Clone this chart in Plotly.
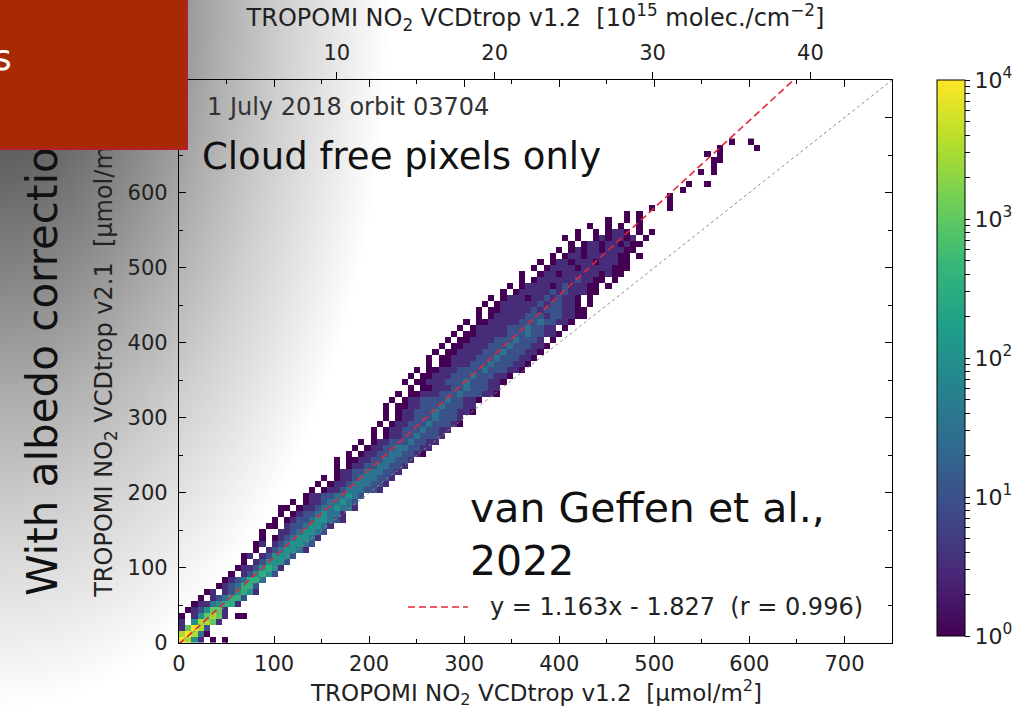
import base64
import numpy as np
import plotly.graph_objects as go

# ---------------- data ----------------
# 2-D histogram, bin width in each axis (µmol/m²)
X_BIN = 6.5
Y_BIN = 8.0
# each row r covers y in [r*Y_BIN, (r+1)*Y_BIN]; cells start at column ROW_START[r]
# characters: '.' empty, digit d -> count = 10**(d/2)
ROW_START = [0, 0, 0, 0, 0, 1, 2, 3, 4, 6,
             7, 8, 9, 10, 10, 12, 12, 13, 13, 14,
             15, 16, 16, 18, 20, 21, 22, 23, 25, 25,
             25, 27, 28, 29, 31, 31, 32, 33, 33, 33,
             34, 35, 37, 36, 37, 38, 40, 40, 41, 42,
             43, 44, 45, 46, 48, 48, 49, 50, 52, 53,
             55, 55, 57, 58, 60, 61, 63, 62, 64, 66,
             69, 72, 76, 79, 79, 81, 82, 0, 84, 86,
             86, 85, 87, 89]
ROW_CELLS = ["8741.0.0", "78730", "16872", "1.47761", "0.146761.00",
             "0124661", "01134551", "0.123552", "01.124541", "0123552",
             "0123553", "0.124542", "01124541", "0.124442", "01.124442",
             "0.1234431", "01.1234432", "0.01234431", "0..11234432", "00.12234431",
             "0.0122344321", "0.012234331", "00.0112334331", "0.011233432", "0112233432",
             "0.0112333221", "0.0112333221", "0.0112333221", "01122333221", "0.0112233221",
             "0.00112233221", "0.01122332210", "0.01122332211", "0.01122232211", "0.0112232221",
             "0.01122232211", "0.011222322210", "0.01122232221", "0.0112223222110", "0.0011222322211",
             "0.0112222322110", "0.001112223222110", "0.0011122322211", "0.001112223222110", "0.001112223222110",
             "0.0011122223222110", "0.001112223222110", "0.0011112223222110", "0.0011112223222110", "0.0011112223222110",
             "0.00111122232221.0", "0.0011111222322110", "0.01111122232211.0", "0.0011111222322110", "0.0111112221221100",
             "0.0011111212221100", "0.01111112122110.0", "0.0111011212110.0", "0.01111121211100", "0.0111101211100.0",
             "0.011111121100.0", "0..01101111110100", "0.01111011111000", "0.0110111011100", "0.01101111100.0",
             "0.01011011100", "0.0110110100", "0.0..0101101.0", "0..0.0110.0.0", "0..0.0..0",
             "0..0.0", "0.0", "0..0", "0", "0",
             "0", "0..0", "", "0.0", "0",
             "00", "0.0", "0.....0", "0..0"]

# colour bar (log10 of counts)
CB_MAJOR = [0, 1, 2, 3, 4]
CB_LABELS = ["10<sup>0</sup>", "10<sup>1</sup>", "10<sup>2</sup>", "10<sup>3</sup>", "10<sup>4</sup>"]

# axes
X_RANGE = [0, 750]
Y_RANGE = [0, 750]
UMOL_TO_E15 = 0.06022          # 1 µmol/m² = 0.06022 ×10^15 molec/cm²
TOP_TICKS = [10, 20, 30, 40]

# linear fit
FIT_SLOPE = 1.163
FIT_INTERCEPT = -1.827
FIT_R = 0.996

FONT = "DejaVu Sans"
NB = "\u00a0"
FIT_COLOR = "#e3263a"

# ---------------- build histogram grid ----------------
n_rows = len(ROW_CELLS)
n_cols = max(s + len(c) for s, c in zip(ROW_START, ROW_CELLS))
Z = np.full((n_rows, n_cols), np.nan)
for r, (s, cells) in enumerate(zip(ROW_START, ROW_CELLS)):
    for k, ch in enumerate(cells):
        if ch != ".":
            Z[r, s + k] = int(ch) / 2.0

minor_vals = []
minor_text = []
for dec in range(4):
    for m in range(2, 10):
        minor_vals.append(dec + np.log10(m))
        minor_text.append("")

fig = go.Figure()

fig.add_trace(go.Heatmap(
    z=Z, x0=X_BIN / 2, dx=X_BIN, y0=Y_BIN / 2, dy=Y_BIN,
    colorscale="Viridis", zmin=0, zmax=4, hoverinfo="skip", showscale=True,
    colorbar=dict(
        x=(937 - 179) / 713, xanchor="left", xpad=0,
        y=1.0, yanchor="top", ypad=0,
        len=(636 - 80) / 563, lenmode="fraction", thickness=28,
        outlinecolor="black", outlinewidth=1,
        tickvals=CB_MAJOR + minor_vals, ticktext=CB_LABELS + minor_text,
        ticks="outside", ticklen=5, tickcolor="black",
        tickfont=dict(family=FONT, size=22, color="#222"),
    ),
))

# 1:1 line
fig.add_trace(go.Scatter(
    x=X_RANGE, y=Y_RANGE, mode="lines",
    line=dict(color="#8a8a8a", width=1, dash="dot"),
    showlegend=False, hoverinfo="skip",
))

# fit line
x_end = (Y_RANGE[1] - FIT_INTERCEPT) / FIT_SLOPE
fit_x = [0, x_end]
fit_y = [FIT_SLOPE * v + FIT_INTERCEPT for v in fit_x]
fit_label = f"y = {FIT_SLOPE:.3f}x - {abs(FIT_INTERCEPT):.3f}{NB}{NB}(r = {FIT_R:.3f})"
fig.add_trace(go.Scatter(
    x=fit_x, y=fit_y, mode="lines",
    line=dict(color=FIT_COLOR, width=1.6, dash="7px,4px"),
    name=fit_label, showlegend=False, hoverinfo="skip",
))

# invisible trace on top axis so it is drawn
fig.add_trace(go.Scatter(
    x=[0, X_RANGE[1] * UMOL_TO_E15], y=[0, 0], xaxis="x2", mode="markers",
    marker=dict(opacity=0), showlegend=False, hoverinfo="skip",
))

# ---------------- background gradient (slide) ----------------
svg = ('<svg xmlns="http://www.w3.org/2000/svg" width="1025" height="709">'
       '<defs><radialGradient id="g" gradientUnits="userSpaceOnUse" cx="0" cy="0" r="1" '
       'gradientTransform="scale(390 710)">'
       '<stop offset="0" stop-color="#404040"/>'
       '<stop offset="0.2" stop-color="#5c5c5c"/>'
       '<stop offset="0.42" stop-color="#8c8c8c"/>'
       '<stop offset="0.57" stop-color="#afafaf"/>'
       '<stop offset="0.73" stop-color="#d0d0d0"/>'
       '<stop offset="0.88" stop-color="#eaeaea"/>'
       '<stop offset="1" stop-color="#ffffff"/>'
       '</radialGradient></defs>'
       '<rect width="1025" height="709" fill="url(#g)"/></svg>')
svg_uri = "data:image/svg+xml;base64," + base64.b64encode(svg.encode()).decode()

PL, PR, PT, PB = 179, 892, 80, 643
PW, PH = PR - PL, PB - PT


def px(xp):
    return (xp - PL) / PW


def py(yp):
    return (PB - yp) / PH


tick_font = dict(family=FONT, size=21, color="#222")
title_font = dict(family=FONT, size=24, color="#222")

fig.update_layout(
    width=1025, height=709, autosize=False,
    margin=dict(l=PL, r=1025 - PR, t=PT, b=709 - PB, pad=0, autoexpand=False),
    paper_bgcolor="white", plot_bgcolor="rgba(0,0,0,0)",
    font=dict(family=FONT, color="#222"),
    showlegend=False,
    images=[dict(source=svg_uri, xref="paper", yref="paper",
                 x=px(0), y=py(0), sizex=1025 / PW, sizey=709 / PH,
                 xanchor="left", yanchor="top", sizing="stretch", layer="below")],
    xaxis=dict(
        range=X_RANGE, tick0=0, dtick=100, ticks="inside", ticklen=7, tickwidth=1,
        tickcolor="black", showline=True, linecolor="black", linewidth=1.2,
        mirror="ticks", showgrid=False, zeroline=False, tickfont=tick_font,
        ticklabelstandoff=2, automargin=False,
        minor=dict(tick0=0, dtick=50, ticks="inside", ticklen=4, tickcolor="black", showgrid=False),
    ),
    xaxis2=dict(
        overlaying="x", side="top", anchor="y",
        range=[X_RANGE[0] * UMOL_TO_E15, X_RANGE[1] * UMOL_TO_E15],
        tickvals=TOP_TICKS, ticks="outside", ticklen=7, tickcolor="black",
        showline=False, showgrid=False, zeroline=False, tickfont=tick_font,
        ticklabelstandoff=4, automargin=False,
        title=dict(text=f"TROPOMI NO<sub>2</sub> VCDtrop v1.2{NB}{NB}[10<sup>15</sup> molec./cm<sup>−2</sup>]",
                   font=title_font, standoff=8),
    ),
    yaxis=dict(
        range=Y_RANGE, tick0=0, dtick=100, ticks="inside", ticklen=7, tickwidth=1,
        tickcolor="black", showline=True, linecolor="black", linewidth=1.2,
        mirror="ticks", showgrid=False, zeroline=False, tickfont=tick_font,
        ticklabelstandoff=6, automargin=False,
        minor=dict(tick0=0, dtick=50, ticks="inside", ticklen=4, tickcolor="black", showgrid=False),
        title=dict(text=f"TROPOMI NO<sub>2</sub> VCDtrop v2.1{NB}{NB}[μmol/m<sup>2</sup>]",
                   font=title_font, standoff=8),
    ),
    shapes=[
        # legend key for the fit line
        dict(type="line", xref="paper", yref="paper",
             x0=px(408), x1=px(468), y0=py(607), y1=py(607),
             line=dict(color=FIT_COLOR, width=1.6, dash="7px,4px")),
    ],
    annotations=[
        # bottom axis title
        dict(text=f"TROPOMI NO<sub>2</sub> VCDtrop v1.2{NB}{NB}[μmol/m<sup>2</sup>]",
             xref="paper", yref="paper", x=0.5, y=py(692),
             xanchor="center", yanchor="middle", showarrow=False,
             font=dict(family=FONT, size=23, color="#222")),
        dict(text=fit_label, xref="paper", yref="paper",
             x=px(488), y=py(607), xanchor="left", yanchor="middle", showarrow=False,
             font=dict(family=FONT, size=24, color="#222")),
        dict(text="1 July 2018 orbit 03704", xref="paper", yref="paper",
             x=px(205), y=py(107), xanchor="left", yanchor="middle", showarrow=False,
             font=dict(family=FONT, size=24, color="#333")),
        dict(text="Cloud free pixels only", xref="paper", yref="paper",
             x=px(200), y=py(156), xanchor="left", yanchor="middle", showarrow=False,
             font=dict(family=FONT, size=37, color="#111")),
        dict(text="van Geffen et al.,<br>2022", xref="paper", yref="paper",
             x=px(468), y=py(534), xanchor="left", yanchor="middle", align="left",
             showarrow=False, font=dict(family=FONT, size=41, color="#111")),
        dict(text="With albedo correction", xref="paper", yref="paper",
             x=px(42), y=py(359), xanchor="center", yanchor="middle", textangle=-90,
             showarrow=False, font=dict(family=FONT, size=42, color="#111")),
        dict(text=" ", xref="paper", yref="paper",
             x=px(-2), y=py(-2), xanchor="left", yanchor="top", showarrow=False,
             width=186, height=148, bgcolor="#a82a04", bordercolor="#b51c2c",
             borderwidth=2, borderpad=0),
        dict(text="s", xref="paper", yref="paper",
             x=px(-9), y=py(58), xanchor="left", yanchor="middle", showarrow=False,
             font=dict(family=FONT, size=36, color="white")),
    ],
)

fig.write_html("out.html")
